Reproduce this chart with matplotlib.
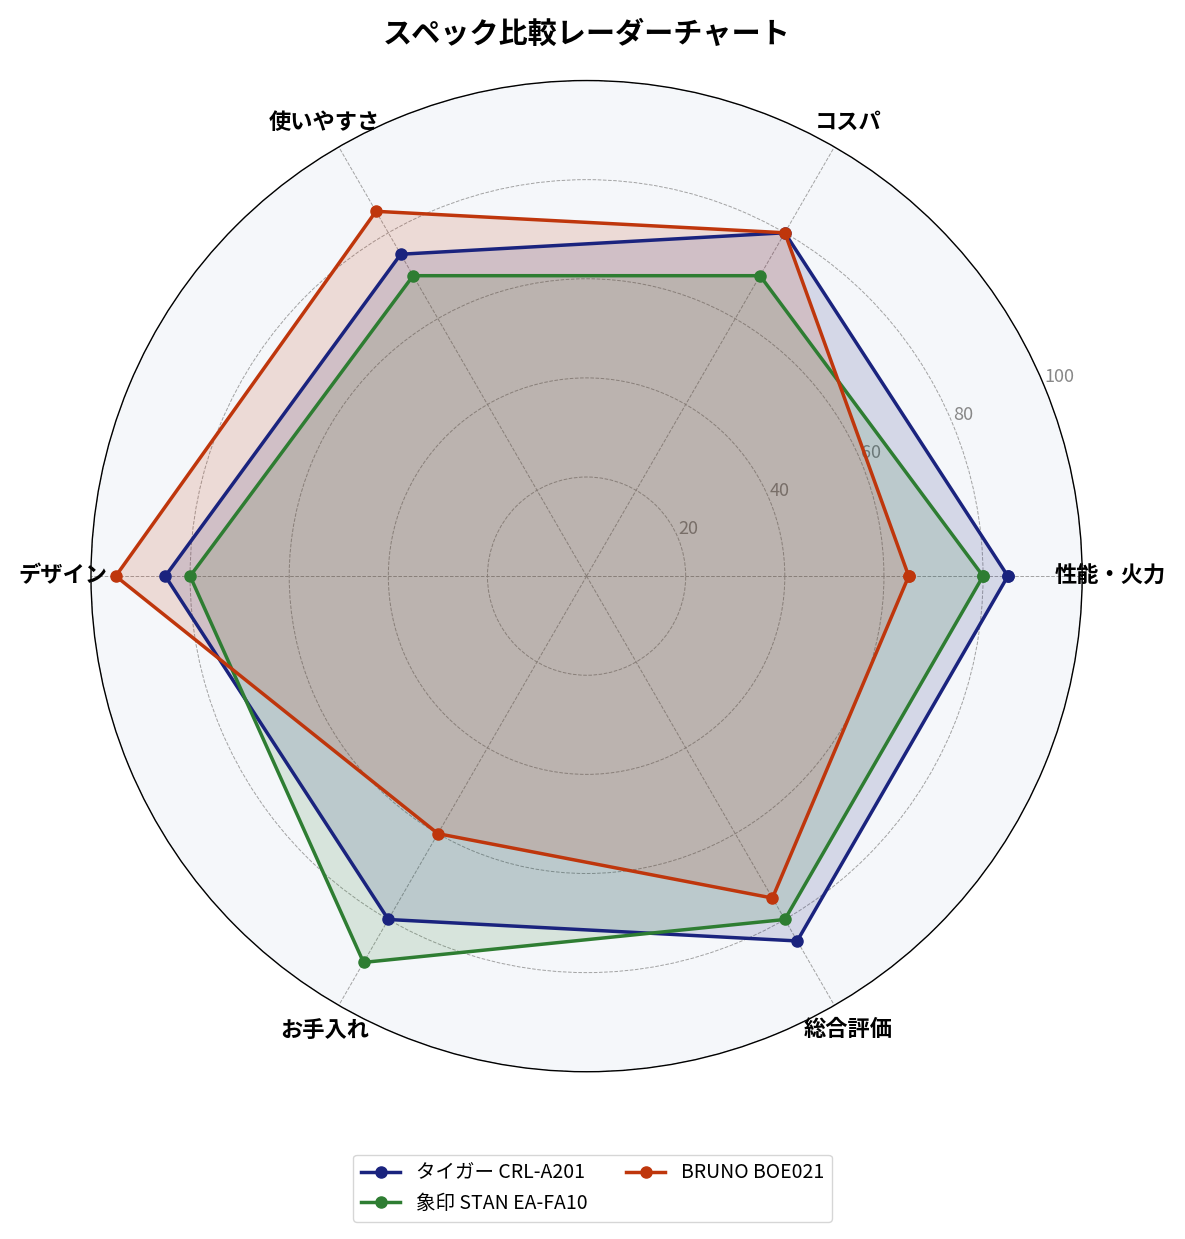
import numpy as np
import matplotlib
matplotlib.use("Agg")
import matplotlib.pyplot as plt

plt.rcParams['font.family'] = ['Noto Sans CJK JP', 'DejaVu Sans']

categories = ["性能・火力", "コスパ", "使いやすさ", "デザイン", "お手入れ", "総合評価"]
series_names = ["タイガー CRL-A201", "象印 STAN EA-FA10", "BRUNO BOE021"]
tiger = [85, 80, 75, 85, 80, 85]
zojirushi = [80, 70, 70, 80, 90, 80]
bruno = [65, 80, 85, 95, 60, 75]
colors = ["#1a237e", "#2e7d32", "#bf360c"]
rticks = [20, 40, 60, 80, 100]

fig = plt.figure(figsize=(11.85, 12.39), dpi=100)
ax = fig.add_axes([0.0765, 0.1350, 0.837, 0.80], projection='polar')
ax.set_facecolor("#f5f7fa")

n = len(categories)
angles = np.linspace(0, 2 * np.pi, n, endpoint=False).tolist()
angles_c = angles + angles[:1]

for name, vals, col in zip(series_names, [tiger, zojirushi, bruno], colors):
    v = vals + vals[:1]
    ax.plot(angles_c, v, color=col, linewidth=2.5, marker='o', markersize=8, label=name, zorder=3)
    ax.fill(angles_c, v, color=col, alpha=0.15, zorder=2)

ax.set_ylim(0, 100)
ax.set_yticks(rticks)
ax.set_yticklabels([str(t) for t in rticks], color="#888888", fontsize=13)
ax.set_rlabel_position(22.5)
ax.set_xticks(angles)
ax.set_xticklabels(categories, fontsize=16, fontweight='bold')
ax.tick_params(axis='x', pad=10)
ax.grid(color="#999999", linestyle='--', linewidth=0.7, alpha=0.9)
ax.spines['polar'].set_color('black')
ax.spines['polar'].set_linewidth(1.0)

ax.set_title("スペック比較レーダーチャート", fontsize=21, fontweight='bold', pad=27)

fig.legend(loc='lower center', ncol=2, bbox_to_anchor=(0.5, 0.006), fontsize=14,
           frameon=True, edgecolor="#cccccc")

fig.savefig("out.png", dpi=100)
